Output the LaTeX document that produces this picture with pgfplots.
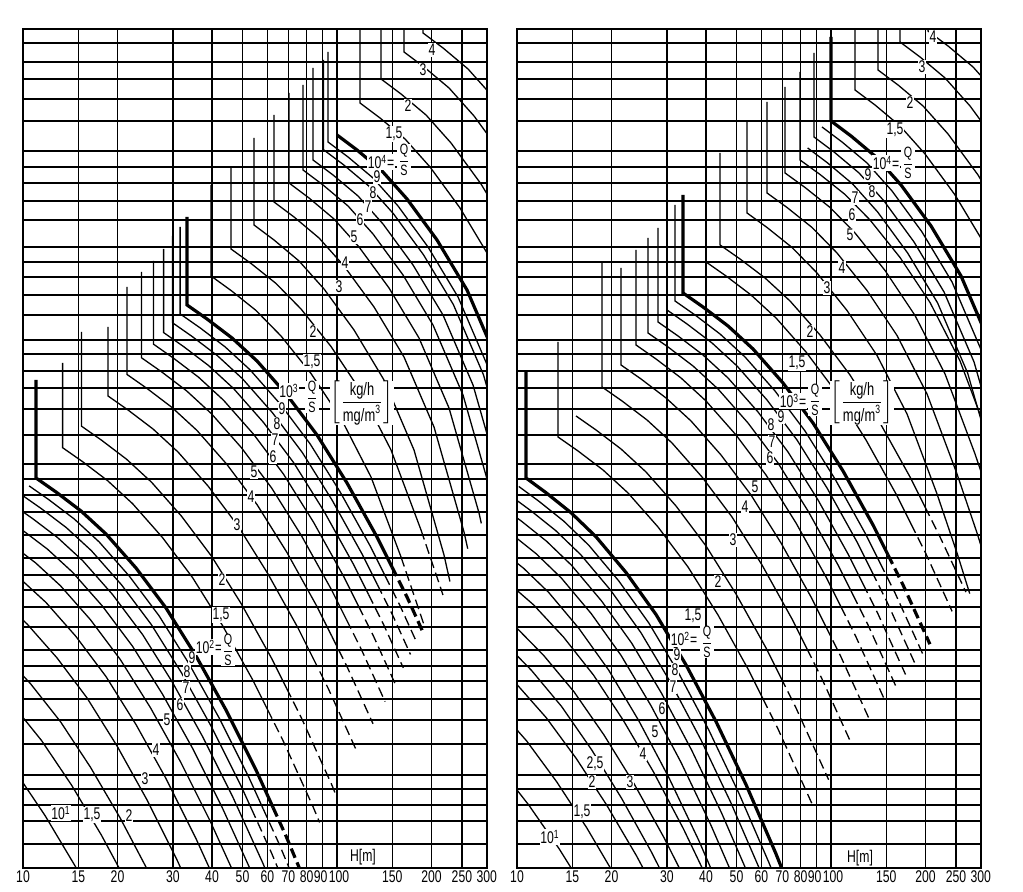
\documentclass[border=0pt]{standalone}
\usepackage{fontspec}
\setmainfont{Liberation Sans}[FakeStretch=0.72]
\usepackage{amsmath}
\usepackage{pgfplots}
\pgfplotsset{compat=1.18}
\tikzset{
  lab/.style={font=\fontsize{8.5}{8.5}\selectfont, fill=white, inner sep=0.4pt},
  labq/.style={font=\fontsize{7.5}{7.5}\selectfont, fill=white, inner sep=0.2pt},
  labb/.style={font=\fontsize{9}{9}\selectfont, fill=white, inner sep=0.2pt},
  tl/.style={font=\fontsize{8.5}{8.5}\selectfont, anchor=south, inner sep=0pt, yshift=4bp},
  cv/.style={black, line width=0.65bp, mark=none},
  cvt/.style={black, line width=1.6bp, mark=none},
  cvd/.style={black, line width=0.65bp, mark=none, dash pattern=on 5bp off 2.5bp},
  cvdt/.style={black, line width=1.6bp, mark=none, dash pattern=on 5bp off 2.5bp},
}
\pgfplotsset{
  nomo/.style={
    scale only axis, width=232bp, height=419.5bp, anchor=south west,
    xmin=0, xmax=464, ymin=0, ymax=839, clip=true,
    axis line style={line width=1.1bp},
    xtick={0,55.3,94.5,149.8,189,219.5,244.3,265.4,283.6,299.6,314,369.3,408.5,438.9,463.8},
    xticklabels={10,15,20,30,40,50,60,70,80,90\hspace*{2bp},\hspace*{2bp}100,150,200,250,300},
    xticklabel style={font=\fontsize{8.5}{8.5}\selectfont, inner sep=1pt},
    ytick={24,47,63,79,93,124,148,169,187,202,218,241,261,278,293,310,333,356,373,389,404,433,459,480,497,514,528,553,573,591,606,621,648,667,685,701,717,747,769,789,806,825},
    yticklabels={},
    major tick length=0pt,
    xmajorgrids, ymajorgrids,
    major grid style={black, line width=0.8bp},
  },
}
\newcommand\toplabels{%
  \node[tl] at (axis cs:0,839) {10};
  \node[tl] at (axis cs:55.3,839) {15};
  \node[tl] at (axis cs:94.5,839) {20};
  \node[tl] at (axis cs:149.8,839) {30};
  \node[tl] at (axis cs:189,839) {40};
  \node[tl] at (axis cs:219.5,839) {50};
  \node[tl] at (axis cs:244.3,839) {60};
  \node[tl] at (axis cs:265.4,839) {70};
  \node[tl] at (axis cs:283.6,839) {80};
  \node[tl] at (axis cs:298.6,839) {90};
  \node[tl] at (axis cs:315,839) {100};
  \node[tl] at (axis cs:369.3,839) {150};
  \node[tl] at (axis cs:398,839) {H(m)};
  \node[tl] at (axis cs:438.9,839) {250};
  \node[tl] at (axis cs:463.8,839) {300};
}
\newcommand\QS{$\dfrac{\text{Q}}{\text{S}}$}
\newcommand\KG{$\left[\dfrac{\text{kg/h}}{\text{mg/m\textsuperscript{3}}}\right]$}
\begin{document}
\begin{tikzpicture}[x=1bp,y=1bp]
\path[use as bounding box] (0,0) rectangle (511.5,446);
% ================= LEFT PANEL =================
\begin{axis}[nomo, at={(11.5bp,12bp)}]
\toplabels
% --- family 10^1 .. 10^2
\addplot[cv] coordinates {(-138,218)(-118,205)(-93,187.3)(-68,165.9)(-38,134.3)(-8,97.1)(22,52.5)(52,2.2)(82,-53.6)};
\addplot[cv] coordinates {(-111.4,248.3)(-91.4,235.3)(-66.4,217.6)(-41.4,196.2)(-11.4,164.6)(18.6,127.4)(48.6,82.8)(78.6,32.5)(108.6,-23.3)};
\addplot[cv] coordinates {(-92.5,269.8)(-72.5,256.5)(-47.5,238.4)(-22.5,216.6)(7.5,184.3)(37.5,146.3)(67.5,100.7)(97.5,49.4)(127.5,-7.6)};
\addplot[cv] coordinates {(-66,300.1)(-46,286.1)(-21,267.1)(4,244.1)(34,210.1)(64,170.1)(94,122.1)(124,68.1)(154,8.1)(184,-57.9)};
\addplot[cv] coordinates {(-47.1,321.6)(-27.1,307.6)(-2.1,288.6)(22.9,265.6)(52.9,231.6)(82.9,191.6)(112.9,143.6)(142.9,89.6)(172.9,29.6)(202.9,-36.4)};
\addplot[cv] coordinates {(-32.5,338.2)(-12.5,324.2)(12.5,305.2)(37.5,282.2)(67.5,248.2)(97.5,208.2)(127.5,160.2)(157.5,106.2)(187.5,46.2)(217.5,-19.8)};
\addplot[cv] coordinates {(-20.5,351.8)(-0.5,337.8)(24.5,318.8)(49.5,295.8)(79.5,261.8)(109.5,221.8)(139.5,173.8)(169.5,119.8)(199.5,59.8)(229.5,-6.2)};
\addplot[cv] coordinates {(-10.4,363.4)(9.6,349.4)(34.6,330.4)(59.6,307.4)(89.6,273.4)(119.6,233.4)(149.6,185.4)(179.6,131.4)(209.6,71.4)(239.6,5.4)(269.6,-66.6)};
\addplot[cv] coordinates {(-1.6,373.3)(18.4,359.3)(43.4,340.3)(68.4,317.3)(98.4,283.3)(128.4,243.3)(158.4,195.3)(188.4,141.3)(218.4,81.3)(228.4,59.3)};
\addplot[cvd] coordinates {(228.4,59.3)(248.4,15.3)(278.4,-56.7)};
\addplot[cv] coordinates {(6.1,382.1)(26.1,368.1)(51.1,349.1)(76.1,326.1)(106.1,292.1)(136.1,252.1)(166.1,204.1)(196.1,150.1)(226.1,90.1)(240.1,59.3)};
\addplot[cvd] coordinates {(240.1,59.3)(256.1,24.1)(286.1,-47.9)};
\addplot[cvt] coordinates {(13,488)(13,390)(33,376)(58,357)(83,334)(113,300)(143,260)(173,212)(203,158)(233,98)(250,60.6)};
\addplot[cvdt] coordinates {(250,60.6)(263,32)(293,-40)};
% --- family 10^2 .. 10^3
\addplot[cv] coordinates {(39.6,505)(39.6,420.3)(59.6,406.3)(84.6,387.3)(109.6,364.3)(139.6,330.3)(169.6,290.3)(199.6,242.3)(229.6,188.3)(244.6,158.3)};
\addplot[cvd] coordinates {(244.6,158.3)(259.6,128.3)(289.6,62.3)(296.6,45.5)};
\addplot[cv] coordinates {(58.5,536)(58.5,441.8)(78.5,427.8)(103.5,408.8)(128.5,385.8)(158.5,351.8)(188.5,311.8)(218.5,263.8)(248.5,209.8)(263.5,179.8)};
\addplot[cvd] coordinates {(263.5,179.8)(278.5,149.8)(308.5,83.8)(312.4,74.4)};
\addplot[cv] coordinates {(85,541)(85,472)(105,458)(130,439)(155,416)(185,382)(215,342)(245,294)(275,240)(290,210)};
\addplot[cvd] coordinates {(290,210)(305,180)(334.4,115.4)};
\addplot[cv] coordinates {(103.9,581)(103.9,493.6)(123.9,479.6)(148.9,460.6)(173.9,437.6)(203.9,403.6)(233.9,363.6)(263.9,315.6)(293.9,261.6)(308.9,231.6)};
\addplot[cvd] coordinates {(308.9,231.6)(323.9,201.6)(350,144.2)};
\addplot[cv] coordinates {(118.5,596)(118.5,510.2)(138.5,496.2)(163.5,477.2)(188.5,454.2)(218.5,420.2)(248.5,380.2)(278.5,332.2)(308.5,278.2)(323.5,248.2)};
\addplot[cvd] coordinates {(323.5,248.2)(338.5,218.2)(362.1,166.3)};
\addplot[cv] coordinates {(130.5,607)(130.5,523.8)(150.5,509.8)(175.5,490.8)(200.5,467.8)(230.5,433.8)(260.5,393.8)(290.5,345.8)(320.5,291.8)(335.5,261.8)};
\addplot[cvd] coordinates {(335.5,261.8)(350.5,231.8)(371.9,184.7)};
\addplot[cv] coordinates {(140.6,619)(140.6,535.4)(160.6,521.4)(185.6,502.4)(210.6,479.4)(240.6,445.4)(270.6,405.4)(300.6,357.4)(330.6,303.4)(345.6,273.4)};
\addplot[cvd] coordinates {(345.6,273.4)(360.6,243.4)(380.3,200.1)};
\addplot[cv] coordinates {(149.4,632)(149.4,545.3)(169.4,531.3)(194.4,512.3)(219.4,489.3)(249.4,455.3)(279.4,415.3)(309.4,367.3)(339.4,313.3)(354.4,283.3)};
\addplot[cvd] coordinates {(354.4,283.3)(369.4,253.3)(387.5,213.5)};
\addplot[cv] coordinates {(157.1,641)(157.1,554.1)(177.1,540.1)(202.1,521.1)(227.1,498.1)(257.1,464.1)(287.1,424.1)(317.1,376.1)(347.1,322.1)(362.1,292.1)};
\addplot[cvd] coordinates {(362.1,292.1)(377.1,262.1)(393.9,225.1)};
\addplot[cvt] coordinates {(164,651)(164,563)(184,549)(209,530)(234,507)(264,473)(294,433)(324,385)(354,331)(369,301)};
\addplot[cvdt] coordinates {(369,301)(384,271)(399.8,236.2)};
% --- family 10^3 .. 10^4
\addplot[cv] coordinates {(188,683)(188,592)(208,577.5)(233,557.5)(258,532)(288,494.5)(318,449.5)(348,391)(378,311)};
\addplot[cvd] coordinates {(378,311)(398,252)(402,240)};
\addplot[cv] coordinates {(208,700)(208,619)(228,604.5)(253,584.5)(278,559)(308,521.5)(338,476.5)(368,418)(398,338)};
\addplot[cvd] coordinates {(398,338)(418,279)(419.9,273)};
\addplot[cv] coordinates {(231,730)(231,643)(251,628)(276,607)(301,579)(331,538)(361,488)(391,418)(421,313)(426.9,286.5)};
\addplot[cv] coordinates {(251,753)(251,666)(271,651)(296,630)(321,602)(351,561)(381,511)(411,441)(441,336)(444.7,319.3)};
\addplot[cv] coordinates {(266,775)(266,685)(286,670)(311,649)(336,621)(366,580)(396,530)(426,460)(456,355)(458.3,344.6)};
\addplot[cv] coordinates {(280,783)(280,698)(300,683)(325,662)(350,634)(380,593)(410,543)(440,473)(470,368)};
\addplot[cv] coordinates {(290,800)(290,708)(310,693)(335,672)(360,644)(390,603)(420,553)(450,483)(480,378)};
\addplot[cv] coordinates {(300.4,808)(300.4,718.3)(320.4,703.3)(345.4,682.3)(370.4,654.3)(400.4,613.3)(430.4,563.3)(460.4,493.3)(490.4,388.3)};
\addplot[cv] coordinates {(305,816)(305,726)(325,711)(350,690)(375,662)(405,621)(435,571)(465,501)};
\addplot[cvt] coordinates {(314,733)(334,718)(359,697)(384,669)(414,628)(444,578)(474,508)};
\addplot[cv] coordinates {(337,839)(337,765)(357,750)(382,729)(407,701)(437,660)(467,610)};
\addplot[cv] coordinates {(358,839)(358,789)(378,774)(403,753)(428,725)(458,684)(488,634)};
\addplot[cv] coordinates {(381,839)(381,816)(401,801)(426,780)(451,752)(481,711)};
\addplot[cv] coordinates {(400,839)(400,835)(420,820)(445,799)(470,771)};
% --- labels
\node[lab] at (axis cs:409,818) {4};
\node[lab] at (axis cs:400,798) {3};
\node[lab] at (axis cs:385,762) {2};
\node[lab] at (axis cs:371,734) {1,5};
\node[lab] at (axis cs:358,706) {10\textsuperscript{4}=};
\node[labq] at (axis cs:381,708) {\QS};
\node[lab] at (axis cs:354,691) {9};
\node[lab] at (axis cs:350,675) {8};
\node[lab] at (axis cs:345,661) {7};
\node[lab] at (axis cs:337,648) {6};
\node[lab] at (axis cs:331,631) {5};
\node[lab] at (axis cs:322,605) {4};
\node[lab] at (axis cs:316,581) {3};
\node[lab] at (axis cs:290,536) {2};
\node[lab] at (axis cs:289,506) {1,5};
\node[lab] at (axis cs:266,477) {10\textsuperscript{3}};
\node[labq] at (axis cs:289,471) {\QS};
\node[labb] at (axis cs:339,465) {\KG};
\node[lab] at (axis cs:259,459) {9};
\node[lab] at (axis cs:254,444) {8};
\node[lab] at (axis cs:252,428) {7};
\node[lab] at (axis cs:250,411) {6};
\node[lab] at (axis cs:231,396) {5};
\node[lab] at (axis cs:228,371) {4};
\node[lab] at (axis cs:214,343) {3};
\node[lab] at (axis cs:199,288) {2};
\node[lab] at (axis cs:198,253) {1,5};
\node[lab] at (axis cs:186,221) {10\textsuperscript{2}=};
\node[labq] at (axis cs:205,218) {\QS};
\node[lab] at (axis cs:169,210) {9};
\node[lab] at (axis cs:164,196) {8};
\node[lab] at (axis cs:163,180) {7};
\node[lab] at (axis cs:157,163) {6};
\node[lab] at (axis cs:144,148) {5};
\node[lab] at (axis cs:133,118) {4};
\node[lab] at (axis cs:122,89) {3};
\node[lab] at (axis cs:106,52) {2};
\node[lab] at (axis cs:69,53) {1,5};
\node[lab] at (axis cs:38,55) {10\textsuperscript{1}};
\node[lab] at (axis cs:340,11) {H[m]};
\end{axis}
% ================= RIGHT PANEL =================
\begin{axis}[nomo, at={(258.5bp,12bp)}]
\toplabels
% --- family 10^1 .. 10^2
\addplot[cv] coordinates {(-148,205)(-128,193.8)(-103,178.6)(-78,160.2)(-48,133)(-18,101)(12,62.6)(42,19.4)(72,-28.6)};
\addplot[cv] coordinates {(-120.4,237.6)(-100.4,225.7)(-75.4,209.5)(-50.4,190)(-20.4,161.1)(9.6,127.1)(39.6,86.3)(69.6,40.4)(99.6,-10.6)};
\addplot[cv] coordinates {(-100.7,260.7)(-80.7,248.8)(-55.7,232.6)(-30.7,213.1)(-0.7,184.2)(29.3,150.2)(59.3,109.4)(89.3,63.5)(119.3,12.5)(149.3,-43.6)};
\addplot[cv] coordinates {(-85.5,278.6)(-65.5,266)(-40.5,248.9)(-15.5,228.2)(14.5,197.6)(44.5,161.6)(74.5,118.4)(104.5,69.8)(134.5,15.8)(164.5,-43.6)};
\addplot[cv] coordinates {(-73.1,293.3)(-53.1,280.7)(-28.1,263.6)(-3.1,242.9)(26.9,212.3)(56.9,176.3)(86.9,133.1)(116.9,84.5)(146.9,30.5)(176.9,-28.9)};
\addplot[cv] coordinates {(-53.5,316.4)(-33.5,303.1)(-8.5,285)(16.5,263.2)(46.5,230.9)(76.5,192.9)(106.5,147.3)(136.5,96)(166.5,39)(196.5,-23.7)};
\addplot[cv] coordinates {(-38.3,334.3)(-18.3,319.6)(6.7,299.6)(31.7,275.5)(61.7,239.8)(91.7,197.8)(121.7,147.4)(151.7,90.7)(181.7,27.7)(211.7,-41.6)};
\addplot[cv] coordinates {(-25.9,349)(-5.9,334.3)(19.1,314.3)(44.1,290.2)(74.1,254.5)(104.1,212.5)(134.1,162.1)(164.1,105.4)(194.1,42.4)(224.1,-26.9)};
\addplot[cv] coordinates {(-15.3,361.3)(4.7,346.6)(29.7,326.6)(54.7,302.5)(84.7,266.8)(114.7,224.8)(144.7,174.4)(174.7,117.7)(204.7,54.7)(234.7,-14.6)};
\addplot[cv] coordinates {(-6.2,372)(13.8,357.3)(38.8,337.3)(63.8,313.2)(93.8,277.5)(123.8,235.5)(153.8,185.1)(183.8,128.4)(213.8,65.4)(243.8,-3.9)};
\addplot[cv] coordinates {(1.8,381.5)(21.8,366.8)(46.8,346.8)(71.8,322.7)(101.8,287)(131.8,245)(161.8,194.6)(191.8,137.9)(221.8,74.9)(251.8,5.6)(281.8,-70)};
\addplot[cvt] coordinates {(9,496)(9,390)(29,375.3)(54,355.3)(79,331.2)(109,295.5)(139,253.5)(169,203.1)(199,146.4)(229,83.4)(259,14.1)(289,-61.5)};
% --- family 10^2 .. 10^3
\addplot[cv] coordinates {(41,526)(41,431)(61,417)(86,398)(111,375)(141,341)(171,301)(201,253)(231,199)(246,169)};
\addplot[cvd] coordinates {(246,169)(261,139)(291,73)(295.9,62.2)};
\addplot[cv] coordinates {(59,452)(79,438)(104,419)(129,396)(159,362)(189,322)(219,274)(249,220)(264,190)};
\addplot[cvd] coordinates {(264,190)(279,160)(309,94)(311.6,88.3)};
\addplot[cv] coordinates {(85,606)(85,481)(105,467)(130,448)(155,425)(185,391)(215,351)(245,303)(275,249)(290,219)};
\addplot[cvd] coordinates {(290,219)(305,189)(334.4,124.3)};
\addplot[cv] coordinates {(104,600)(104,503)(124,489)(149,470)(174,447)(204,413)(234,373)(264,325)(294,271)(309,241)};
\addplot[cvd] coordinates {(309,241)(324,211)(352.8,147.6)};
\addplot[cv] coordinates {(119,618)(119,523)(139,509)(164,490)(189,467)(219,433)(249,393)(279,345)(309,291)(324,261)};
\addplot[cvd] coordinates {(324,261)(339,231)(368.1,167)};
\addplot[cv] coordinates {(131,630)(131,535)(151,521)(176,502)(201,479)(231,445)(261,405)(291,357)(321,303)(336,273)};
\addplot[cvd] coordinates {(336,273)(351,243)(379.1,181.2)};
\addplot[cv] coordinates {(141,640)(141,546)(161,532)(186,513)(211,490)(241,456)(271,416)(301,368)(331,314)(346,284)};
\addplot[cvd] coordinates {(346,284)(361,254)(388.6,193.3)};
\addplot[cv] coordinates {(150,656)(150,558)(170,544)(195,525)(220,502)(250,468)(280,428)(310,380)(340,326)(355,296)};
\addplot[cvd] coordinates {(355,296)(370,266)(397.8,204.8)};
\addplot[cv] coordinates {(158,663)(158,567)(178,553)(203,534)(228,511)(258,477)(288,437)(318,389)(348,335)(363,305)};
\addplot[cvd] coordinates {(363,305)(378,275)(405.5,214.5)};
\addplot[cvt] coordinates {(166,673)(166,575)(186,561)(211,542)(236,519)(266,485)(296,445)(326,397)(356,343)(371,313)};
\addplot[cvdt] coordinates {(371,313)(386,283)(412.9,223.8)};
% --- family 10^3 .. 10^4
\addplot[cv] coordinates {(189,700)(189,606)(209,592)(234,573)(259,550)(289,516)(319,476)(349,428)(379,374)(394,344)};
\addplot[cvd] coordinates {(394,344)(409,314)(435.1,256.6)};
\addplot[cv] coordinates {(203,715)(203,623)(223,609)(248,590)(273,567)(303,533)(333,493)(363,445)(393,391)(408,361)};
\addplot[cvd] coordinates {(408,361)(423,331)(448.9,275.9)};
\addplot[cv] coordinates {(230,746)(230,655)(250,640.5)(275,620.5)(300,595)(330,557.5)(360,512.5)(390,454)(420,374)(440,315)(452.7,274.4)};
\addplot[cv] coordinates {(250,766)(250,675)(270,660.5)(295,640.5)(320,615)(350,577.5)(380,532.5)(410,474)(440,394)(460,335)(480,271)};
\addplot[cv] coordinates {(268,781)(268,695)(288,680.5)(313,660.5)(338,635)(368,597.5)(398,552.5)(428,494)(458,414)(478,355)};
\addplot[cv] coordinates {(283,796)(283,708)(303,693.5)(328,673.5)(353,648)(383,610.5)(413,565.5)(443,507)(473,427)};
\addplot[cv] coordinates {(290.6,720)(310.6,705)(335.6,684)(360.6,656)(390.6,615)(420.6,565)(450.6,495)(480.6,390)};
\addplot[cv] coordinates {(297,815)(297,731)(317,716)(342,695)(367,667)(397,626)(427,576)(457,506)(487,401)};
\addplot[cv] coordinates {(305,741)(325,726)(350,705)(375,677)(405,636)(435,586)(465,516)};
\addplot[cvt] coordinates {(314,831)(314,747)(334,732)(359,711)(384,683)(414,642)(444,592)(474,522)};
\addplot[cv] coordinates {(338,839)(338,778)(358,763)(383,742)(408,714)(438,673)(468,623)};
\addplot[cv] coordinates {(361,839)(361,798)(381,783)(406,762)(431,734)(461,693)(491,643)};
\addplot[cv] coordinates {(383,839)(383,826)(403,811)(428,790)(453,762)(483,721)};
\addplot[cv] coordinates {(411,839)(411,837)(431,822)(456,801)(481,773)};
% --- labels
\node[lab] at (axis cs:416,831) {4};
\node[lab] at (axis cs:405,801) {3};
\node[lab] at (axis cs:393,765) {2};
\node[lab] at (axis cs:378,738) {1,5};
\node[lab] at (axis cs:369,705) {10\textsuperscript{4}=};
\node[labq] at (axis cs:391,705) {\QS};
\node[lab] at (axis cs:351,693) {9};
\node[lab] at (axis cs:355,676) {8};
\node[lab] at (axis cs:338,670) {7};
\node[lab] at (axis cs:335,653) {6};
\node[lab] at (axis cs:333,633) {5};
\node[lab] at (axis cs:325,600) {4};
\node[lab] at (axis cs:310,580) {3};
\node[lab] at (axis cs:293,536) {2};
\node[lab] at (axis cs:280,505) {1,5};
\node[lab] at (axis cs:276,467) {10\textsuperscript{3}=};
\node[labq] at (axis cs:298,468) {\QS};
\node[labb] at (axis cs:345,465) {\KG};
\node[lab] at (axis cs:264,451) {9};
\node[lab] at (axis cs:254,443) {8};
\node[lab] at (axis cs:255,426) {7};
\node[lab] at (axis cs:253,410) {6};
\node[lab] at (axis cs:238,381) {5};
\node[lab] at (axis cs:228,361) {4};
\node[lab] at (axis cs:216,328) {3};
\node[lab] at (axis cs:201,286) {2};
\node[lab] at (axis cs:176,252) {1,5};
\node[lab] at (axis cs:167,229) {10\textsuperscript{2}=};
\node[labq] at (axis cs:190,226) {\QS};
\node[lab] at (axis cs:160,213) {9};
\node[lab] at (axis cs:158,198) {8};
\node[lab] at (axis cs:156,181) {7};
\node[lab] at (axis cs:145,159) {6};
\node[lab] at (axis cs:138,136) {5};
\node[lab] at (axis cs:126,114) {4};
\node[lab] at (axis cs:113,86) {3};
\node[lab] at (axis cs:78,104) {2,5};
\node[lab] at (axis cs:75,86) {2};
\node[lab] at (axis cs:65,56) {1,5};
\node[lab] at (axis cs:33,31) {10\textsuperscript{1}};
\node[lab] at (axis cs:343,10) {H[m]};
\end{axis}
\end{tikzpicture}
\end{document}
